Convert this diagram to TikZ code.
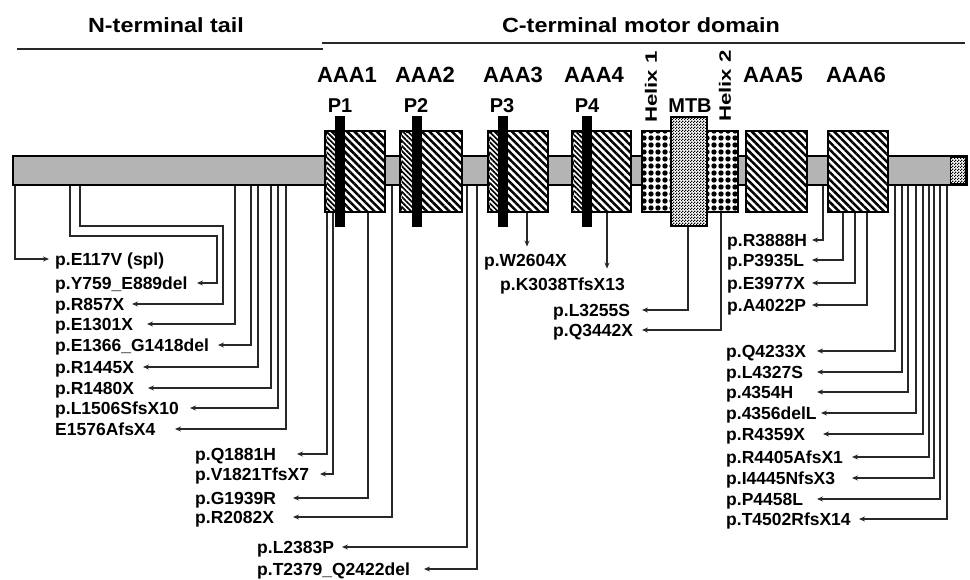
\documentclass[tikz,border=0pt]{standalone}
\usepackage{fontspec}
\setmainfont{Liberation Sans}
\usetikzlibrary{arrows.meta,patterns.meta}
\definecolor{barg}{RGB}{180,180,180}
\definecolor{lnc}{RGB}{40,40,40}
\pgfdeclarepatternformonly{finecheck}{\pgfqpoint{0pt}{0pt}}{\pgfqpoint{3pt}{3pt}}{\pgfqpoint{3pt}{3pt}}{%
 \pgfpathrectangle{\pgfqpoint{0pt}{0pt}}{\pgfqpoint{1.5pt}{1.5pt}}%
 \pgfpathrectangle{\pgfqpoint{1.5pt}{1.5pt}}{\pgfqpoint{1.5pt}{1.5pt}}%
 \pgfusepath{fill}}
\newcommand\hdf{\fontsize{20.5}{24}\bfseries\selectfont}
\newcommand\domf{\fontsize{22}{26}\bfseries\selectfont}
\newcommand\pf{\fontsize{20}{24}\bfseries\selectfont}
\newcommand\lblf{\fontsize{17.5}{20}\bfseries\selectfont}
\newcommand\hxf{\fontsize{16.5}{18}\bfseries\selectfont}
\begin{document}
\begin{tikzpicture}[x=1pt,y=-1pt,
  hdr/.style={anchor=base, inner sep=0pt, font=\hdf},
  dom/.style={anchor=base, inner sep=0pt, font=\domf},
  plab/.style={anchor=base, inner sep=0pt, font=\pf},
  hxlab/.style={anchor=center, inner sep=0pt, font=\hxf, rotate=90},
  lbl/.style={anchor=west, inner sep=0pt, text height=12.5pt, text depth=0pt, font=\lblf},
  clbl/.style={anchor=center, inner sep=0pt, text height=12.5pt, text depth=0pt, font=\lblf},
  rule/.style={draw=lnc, line width=1.2pt},
  box/.style={draw, line width=2.5pt, inner sep=0pt, minimum height=81pt},
  aaa/.style={box, preaction={fill=white}, pattern={Lines[angle=-45,distance=5.3pt,line width=2.5pt]}},
  strip/.style={preaction={fill=white}, pattern={Lines[angle=-45,distance=3.6pt,line width=1.7pt]}},
  helix/.style={box, preaction={fill=white}, pattern={Dots[distance=7pt,radius=2.7pt]}},
  mtbbox/.style={draw, line width=2.5pt, inner sep=0pt, preaction={fill=white}, pattern=finecheck},
  pbar/.style={fill=black, inner sep=0pt, minimum width=10pt, minimum height=111pt},
  conn/.style={draw=lnc, line width=1.1pt, -{Stealth[length=6pt,width=5pt]}}
]
\useasboundingbox (0,0) rectangle (970,579);

% headers
\node[hdr] (nt) at (166,32) {\scalebox{1.14}[1]{N-terminal tail}};
\node[hdr] (ct) at (641,32) {\scalebox{1.14}[1]{C-terminal motor domain}};
\draw[rule] (17,49) -- (323,49);
\draw[rule] (322,43) -- (965,43);

% domain labels
\node[dom] (l1) at (347,82) {AAA1};
\node[dom] (l2) at (425,82) {AAA2};
\node[dom] (l3) at (513,82) {AAA3};
\node[dom] (l4) at (594,82) {AAA4};
\node[dom] (l5) at (773,82) {AAA5};
\node[dom] (l6) at (856,82) {AAA6};
\node[plab] (q1) at (340,112) {P1};
\node[plab] (q2) at (416,112) {P2};
\node[plab] (q3) at (502,112) {P3};
\node[plab] (q4) at (587,112) {P4};
\node[plab] (qm) at (690,112) {MTB};
\node[hxlab] (hx1) at (651,87) {\scalebox{1.35}[1]{Helix 1}};
\node[hxlab] (hx2) at (725,86) {\scalebox{1.35}[1]{Helix 2}};

% main bar
\node[draw, fill=barg, line width=2.5pt, inner sep=0pt, minimum width=954pt, minimum height=29pt] (bar) at (490,170.5) {};
\node[draw, line width=1.5pt, inner sep=0pt, preaction={fill=white}, pattern=finecheck, minimum width=15pt, minimum height=26pt] (endp) at (958,170.5) {};

% domain boxes
\node[aaa, minimum width=60pt] (a1) at (355,171.5) {};
\node[aaa, minimum width=62pt] (a2) at (431,171.5) {};
\node[aaa, minimum width=60pt] (a3) at (518,171.5) {};
\node[aaa, minimum width=59pt] (a4) at (601.5,171.5) {};
\node[aaa, minimum width=61pt] (a5) at (776.5,171.5) {};
\node[aaa, minimum width=60pt] (a6) at (858,171.5) {};
\node[helix, minimum width=30pt] (h1) at (657,171.5) {};
\node[helix, minimum width=31pt] (h2) at (722.5,171.5) {};
\node[mtbbox, minimum width=36pt, minimum height=109pt] (mtb) at (689,171.5) {};

% finer hatched strips left of P bars
\path[strip] (326.5,132.5) rectangle (335,210.5);
\path[strip] (401.5,132.5) rectangle (412,210.5);
\path[strip] (489.5,132.5) rectangle (498,210.5);
\path[strip] (573.5,132.5) rectangle (582,210.5);

% P bars
\node[pbar] (pb1) at (340,171.5) {};
\node[pbar] (pb2) at (417,171.5) {};
\node[pbar] (pb3) at (503,171.5) {};
\node[pbar] (pb4) at (587,171.5) {};

% left labels
\node[lbl] (t1) at (55,259) {p.E117V (spl)};
\node[lbl] (t2) at (55,283) {p.Y759\_E889del};
\node[lbl] (t3) at (55,304) {p.R857X};
\node[lbl] (t4) at (55,324) {p.E1301X};
\node[lbl] (t5) at (55,345) {p.E1366\_G1418del};
\node[lbl] (t6) at (55,367) {p.R1445X};
\node[lbl] (t7) at (55,388) {p.R1480X};
\node[lbl] (t8) at (55,408) {p.L1506SfsX10};
\node[lbl] (t9) at (55,429) {E1576AfsX4};

\draw[conn] (15,0 |- bar.south) |- (49,0 |- t1.west);
\draw[conn] (70,0 |- bar.south) |- (217,236) |- (197,0 |- t2.west);
\draw[conn] (80,0 |- bar.south) |- (223,226) |- (132,0 |- t3.west);
\draw[conn] (235,0 |- bar.south) |- (147,0 |- t4.west);
\draw[conn] (251,0 |- bar.south) |- (218,0 |- t5.west);
\draw[conn] (258,0 |- bar.south) |- (143,0 |- t6.west);
\draw[conn] (271,0 |- bar.south) |- (148,0 |- t7.west);
\draw[conn] (278,0 |- bar.south) |- (190,0 |- t8.west);
\draw[conn] (286,0 |- bar.south) |- (175,0 |- t9.west);

% middle-left labels
\node[lbl] (m1) at (195,454) {p.Q1881H};
\node[lbl] (m2) at (195,474) {p.V1821TfsX7};
\node[lbl] (m3) at (195,498) {p.G1939R};
\node[lbl] (m4) at (195,517) {p.R2082X};
\node[lbl] (m5) at (257,547) {p.L2383P};
\node[lbl] (m6) at (257,569) {p.T2379\_Q2422del};

\draw[conn] (327,0 |- a1.south) |- (297,0 |- m1.west);
\draw[conn] (333,0 |- a1.south) |- (320,0 |- m2.west);
\draw[conn] (368,0 |- a1.south) |- (293,0 |- m3.west);
\draw[conn] (392,0 |- bar.south) |- (293,0 |- m4.west);
\draw[conn] (467,0 |- bar.south) |- (342,0 |- m5.west);
\draw[conn] (477,0 |- bar.south) |- (424,0 |- m6.west);

% middle labels
\node[clbl] (w1) at (525.5,260) {p.W2604X};
\node[clbl] (w2) at (562.5,284) {p.K3038TfsX13};
\node[lbl] (w3) at (553,310) {p.L3255S};
\node[lbl] (w4) at (553,330) {p.Q3442X};

\draw[conn, shorten >=7pt] (527,0 |- a3.south) -- (527,0 |- w1.north);
\draw[conn, shorten >=9pt] (607,0 |- a4.south) -- (607,0 |- w2.north);
\draw[conn] (688,0 |- mtb.south) |- (642,0 |- w3.west);
\draw[conn] (721,0 |- h2.south) |- (642,0 |- w4.west);

% right upper labels
\node[lbl] (u1) at (727,240) {p.R3888H};
\node[lbl] (u2) at (727,260) {p.P3935L};
\node[lbl] (u3) at (727,283) {p.E3977X};
\node[lbl] (u4) at (727,305) {p.A4022P};

\draw[conn] (823,0 |- bar.south) |- (812,0 |- u1.west);
\draw[conn] (843,0 |- a6.south) |- (812,0 |- u2.west);
\draw[conn] (855,0 |- a6.south) |- (812,0 |- u3.west);
\draw[conn] (867,0 |- a6.south) |- (812,0 |- u4.west);

% right lower labels
\node[lbl] (r1) at (726,351) {p.Q4233X};
\node[lbl] (r2) at (726,372) {p.L4327S};
\node[lbl] (r3) at (726,392) {p.4354H};
\node[lbl] (r4) at (726,413) {p.4356delL};
\node[lbl] (r5) at (726,434) {p.R4359X};
\node[lbl] (r6) at (726,457) {p.R4405AfsX1};
\node[lbl] (r7) at (726,478) {p.I4445NfsX3};
\node[lbl] (r8) at (726,499) {p.P4458L};
\node[lbl] (r9) at (726,519) {p.T4502RfsX14};

\draw[conn] (895,0 |- bar.south) |- (817,0 |- r1.west);
\draw[conn] (902,0 |- bar.south) |- (817,0 |- r2.west);
\draw[conn] (908,0 |- bar.south) |- (817,0 |- r3.west);
\draw[conn] (916,0 |- bar.south) |- (821,0 |- r4.west);
\draw[conn] (923,0 |- bar.south) |- (823,0 |- r5.west);
\draw[conn] (929,0 |- bar.south) |- (852,0 |- r6.west);
\draw[conn] (934,0 |- bar.south) |- (852,0 |- r7.west);
\draw[conn] (940,0 |- bar.south) |- (817,0 |- r8.west);
\draw[conn] (947,0 |- bar.south) |- (859,0 |- r9.west);
\end{tikzpicture}
\end{document}
